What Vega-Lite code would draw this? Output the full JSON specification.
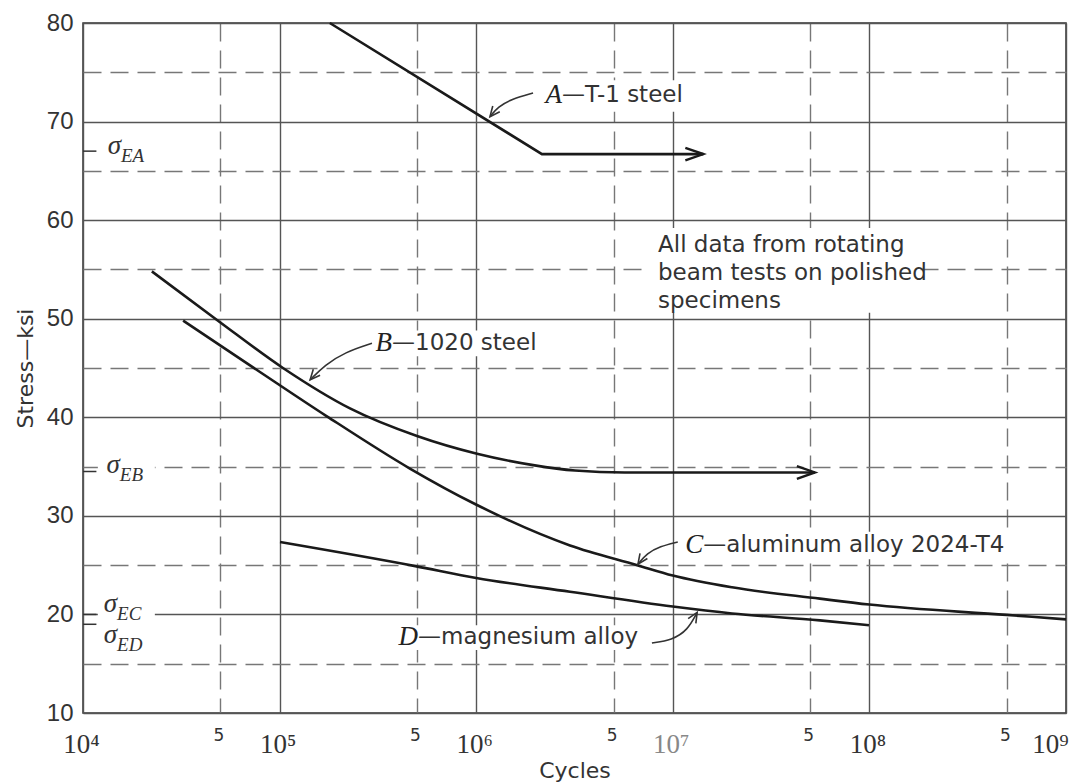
{
  "$schema": "https://vega.github.io/schema/vega-lite/v6.json",
  "width": 983,
  "height": 690,
  "autosize": "none",
  "padding": {"left": 83, "top": 23, "right": 15, "bottom": 69},
  "background": "white",
  "config": {"view": {"stroke": "#333", "strokeWidth": 1.5}},
  "datasets": {
    "curves": [
      {"series": "A", "n": 180000, "s": 80},
      {"series": "A", "n": 2160000, "s": 66.7},
      {"series": "A", "n": 14300000, "s": 66.7},
      {"series": "B", "n": 22400, "s": 54.8},
      {"series": "B", "n": 48600, "s": 49.8},
      {"series": "B", "n": 104000, "s": 45.0},
      {"series": "B", "n": 228000, "s": 40.9},
      {"series": "B", "n": 500000, "s": 38.1},
      {"series": "B", "n": 1010000, "s": 36.3},
      {"series": "B", "n": 1950000, "s": 35.15},
      {"series": "B", "n": 3180000, "s": 34.6},
      {"series": "B", "n": 5700000, "s": 34.4},
      {"series": "B", "n": 52800000, "s": 34.4},
      {"series": "C", "n": 32300, "s": 49.8},
      {"series": "C", "n": 76700, "s": 44.8},
      {"series": "C", "n": 174000, "s": 40.1},
      {"series": "C", "n": 460000, "s": 34.8},
      {"series": "C", "n": 986000, "s": 31.2},
      {"series": "C", "n": 3000000, "s": 27.0},
      {"series": "C", "n": 6600000, "s": 25.0},
      {"series": "C", "n": 10000000, "s": 23.95},
      {"series": "C", "n": 20000000, "s": 22.75},
      {"series": "C", "n": 56000000, "s": 21.6},
      {"series": "C", "n": 100000000, "s": 21.0},
      {"series": "C", "n": 500000000, "s": 19.95},
      {"series": "C", "n": 1000000000, "s": 19.5},
      {"series": "D", "n": 100500, "s": 27.34},
      {"series": "D", "n": 490000, "s": 24.9},
      {"series": "D", "n": 1000000, "s": 23.7},
      {"series": "D", "n": 3000000, "s": 22.3},
      {"series": "D", "n": 10000000, "s": 20.8},
      {"series": "D", "n": 20000000, "s": 20.1},
      {"series": "D", "n": 56000000, "s": 19.4},
      {"series": "D", "n": 99500000, "s": 18.9}
    ],
    "tips": [
      {"series": "A", "n": 14300000, "s": 66.7},
      {"series": "B", "n": 52800000, "s": 34.4}
    ],
    "leaders": [
      {"series": "A", "i": 1, "n": 1946000, "s": 72.9},
      {"series": "A", "i": 2, "n": 1520000, "s": 72.3},
      {"series": "A", "i": 3, "n": 1290000, "s": 71.5},
      {"series": "A", "i": 4, "n": 1175000, "s": 70.5},
      {"series": "B", "i": 1, "n": 295000, "s": 47.5},
      {"series": "B", "i": 2, "n": 215000, "s": 46.6},
      {"series": "B", "i": 3, "n": 170000, "s": 45.3},
      {"series": "B", "i": 4, "n": 143000, "s": 43.8},
      {"series": "C", "i": 1, "n": 10600000, "s": 27.35},
      {"series": "C", "i": 2, "n": 8600000, "s": 26.9},
      {"series": "C", "i": 3, "n": 7400000, "s": 26.2},
      {"series": "C", "i": 4, "n": 6650000, "s": 25.1},
      {"series": "D", "i": 1, "n": 7830000, "s": 17.1},
      {"series": "D", "i": 2, "n": 9900000, "s": 17.4},
      {"series": "D", "i": 3, "n": 11900000, "s": 18.4},
      {"series": "D", "i": 4, "n": 13300000, "s": 20.2}
    ],
    "labels": [
      {"letter": "A", "rest": "—T-1 steel", "n": 2730000, "s": 72.7},
      {"letter": "B", "rest": "—1020 steel", "n": 373000, "s": 47.5},
      {"letter": "C", "rest": "—aluminum alloy 2024-T4", "n": 14300000, "s": 27.0},
      {"letter": "D", "rest": "—magnesium alloy", "n": 506000, "s": 17.7}
    ],
    "note": [
      {"txt": "All data from rotating\nbeam tests on polished\nspecimens", "n": 8410000, "s": 57.48}
    ],
    "sigmas": [
      {"sub": "EA", "n": 15600, "s": 66.71},
      {"sub": "EB", "n": 15400, "s": 34.35},
      {"sub": "EC", "n": 14900, "s": 20.24},
      {"sub": "ED", "n": 14900, "s": 17.1}
    ],
    "marks": [
      {"n": 10000, "n2": 11700, "s": 67},
      {"n": 10000, "n2": 11700, "s": 34.5},
      {"n": 10000, "n2": 11700, "s": 20},
      {"n": 10000, "n2": 11700, "s": 19}
    ],
    "boxes": [
      {"n": 11900, "n2": 23200, "s": 36, "s2": 33},
      {"n": 11900, "n2": 23200, "s": 21.3, "s2": 16.2},
      {"n": 7650000, "n2": 171000000, "s": 59.2, "s2": 50.6},
      {"n": 11400000, "n2": 690000000, "s": 28.4, "s2": 25.6},
      {"n": 295000, "n2": 2060000, "s": 48.8, "s2": 46.2},
      {"n": 400000, "n2": 6800000, "s": 18.9, "s2": 16.4},
      {"n": 2350000, "n2": 15500000, "s": 74.2, "s2": 71}
    ]
  },
  "encoding": {
    "x": {
      "field": "n",
      "type": "quantitative",
      "scale": {"type": "log", "domain": [10000, 1000000000], "nice": false},
      "axis": {
        "title": "Cycles",
        "values": [10000, 50000, 100000, 500000, 1000000, 5000000, 10000000, 50000000, 100000000, 500000000, 1000000000],
        "labelExpr": "abs(log(datum.value)/LN10 - round(log(datum.value)/LN10)) > 0.1 ? '5' : '10' + ['⁴','⁵','⁶','⁷','⁸','⁹'][round(log(datum.value)/LN10) - 4]",
        "grid": true,
        "domain": false,
        "ticks": false,
        "tickSize": 0,
        "gridColor": {"condition": {"test": "abs(log(datum.value)/LN10 - round(log(datum.value)/LN10)) > 0.1", "value": "#777"}, "value": "#555"},
        "gridDash": {"condition": {"test": "abs(log(datum.value)/LN10 - round(log(datum.value)/LN10)) > 0.1", "value": [18, 9]}, "value": []},
        "gridWidth": 1.4,
        "labelFont": {"condition": {"test": "abs(log(datum.value)/LN10 - round(log(datum.value)/LN10)) > 0.1", "value": "DejaVu Sans"}, "value": "Liberation Serif"},
        "labelFontSize": {"condition": {"test": "abs(log(datum.value)/LN10 - round(log(datum.value)/LN10)) > 0.1", "value": 17}, "value": 27},
        "labelPadding": {"condition": {"test": "abs(log(datum.value)/LN10 - round(log(datum.value)/LN10)) > 0.1", "value": 27}, "value": 39},
        "labelOffset": {"condition": {"test": "datum.value == 1000000000", "value": -16}, "value": -2},
        "labelBaseline": "alphabetic",
        "labelColor": {"condition": {"test": "datum.value == 10000000", "value": "#888"}, "value": "#333"},
        "labelFlush": false,
        "labelOverlap": false,
        "labelBound": false,
        "titleFont": "DejaVu Sans",
        "titleFontSize": 22,
        "titleFontWeight": "normal",
        "titleColor": "#333",
        "titleBaseline": "alphabetic",
        "titleY": 64
      }
    },
    "y": {
      "field": "s",
      "type": "quantitative",
      "scale": {"domain": [10, 80], "nice": false, "zero": false},
      "axis": {
        "title": "Stress—ksi",
        "values": [10, 15, 20, 25, 30, 35, 40, 45, 50, 55, 60, 65, 70, 75, 80],
        "labelExpr": "datum.value % 10 == 0 ? datum.label : ''",
        "grid": true,
        "domain": false,
        "ticks": false,
        "tickSize": 0,
        "gridColor": {"condition": {"test": "datum.value % 10 != 0", "value": "#777"}, "value": "#555"},
        "gridDash": {"condition": {"test": "datum.value % 10 != 0", "value": [18, 9]}, "value": []},
        "gridWidth": 1.4,
        "labelFont": "Liberation Sans",
        "labelFontSize": 24,
        "labelPadding": 10,
        "labelColor": "#333",
        "labelOverlap": false,
        "titleFont": "DejaVu Sans",
        "titleFontSize": 22,
        "titleFontWeight": "normal",
        "titleColor": "#333",
        "titleBaseline": "alphabetic",
        "titleX": -51,
        "titleY": 345
      }
    }
  },
  "layer": [
    {
      "data": {"name": "boxes"},
      "mark": {"type": "rect", "color": "white", "opacity": 1},
      "encoding": {"x2": {"field": "n2"}, "y2": {"field": "s2"}}
    },
    {
      "data": {"name": "marks"},
      "mark": {"type": "rule", "color": "#333", "strokeWidth": 1.5},
      "encoding": {"x2": {"field": "n2"}}
    },
    {
      "data": {"name": "curves"},
      "transform": [{"filter": "datum.series == 'A'"}],
      "mark": {"type": "line", "color": "#1a1a1a", "strokeWidth": 2.6, "interpolate": "linear"},
      "encoding": {}
    },
    {
      "data": {"name": "curves"},
      "transform": [{"filter": "datum.series != 'A'"}],
      "mark": {"type": "line", "color": "#1a1a1a", "strokeWidth": 2.6, "interpolate": "monotone"},
      "encoding": {"detail": {"field": "series"}}
    },
    {
      "data": {"name": "tips"},
      "mark": {"type": "point", "shape": "M-1,-0.35L0,0L-1,0.35", "filled": false, "stroke": "#1a1a1a", "strokeWidth": 2.4, "size": 1296, "opacity": 1},
      "encoding": {}
    },
    {
      "data": {"name": "leaders"},
      "mark": {"type": "line", "color": "#333", "strokeWidth": 1.6, "interpolate": "basis"},
      "encoding": {"detail": {"field": "series"}, "order": {"field": "i"}}
    },
    {
      "data": {"name": "leaders"},
      "transform": [{"filter": "datum.series == 'A' && datum.i == 4"}],
      "mark": {"type": "point", "shape": "M-1,-0.45L0,0L-1,0.45", "filled": false, "stroke": "#333", "strokeWidth": 1.6, "size": 400, "opacity": 1, "angle": 129},
      "encoding": {}
    },
    {
      "data": {"name": "leaders"},
      "transform": [{"filter": "datum.series == 'B' && datum.i == 4"}],
      "mark": {"type": "point", "shape": "M-1,-0.45L0,0L-1,0.45", "filled": false, "stroke": "#333", "strokeWidth": 1.6, "size": 400, "opacity": 1, "angle": 131},
      "encoding": {}
    },
    {
      "data": {"name": "leaders"},
      "transform": [{"filter": "datum.series == 'C' && datum.i == 4"}],
      "mark": {"type": "point", "shape": "M-1,-0.45L0,0L-1,0.45", "filled": false, "stroke": "#333", "strokeWidth": 1.6, "size": 400, "opacity": 1, "angle": 125},
      "encoding": {}
    },
    {
      "data": {"name": "leaders"},
      "transform": [{"filter": "datum.series == 'D' && datum.i == 4"}],
      "mark": {"type": "point", "shape": "M-1,-0.45L0,0L-1,0.45", "filled": false, "stroke": "#333", "strokeWidth": 1.6, "size": 400, "opacity": 1, "angle": 301},
      "encoding": {}
    },
    {
      "data": {"name": "labels"},
      "mark": {"type": "text", "font": "Liberation Serif", "fontStyle": "italic", "fontSize": 27, "align": "right", "baseline": "middle", "color": "#222"},
      "encoding": {"text": {"field": "letter"}}
    },
    {
      "data": {"name": "labels"},
      "mark": {"type": "text", "font": "DejaVu Sans", "fontSize": 23, "align": "left", "baseline": "middle", "color": "#333"},
      "encoding": {"text": {"field": "rest"}}
    },
    {
      "data": {"name": "note"},
      "mark": {"type": "text", "font": "DejaVu Sans", "fontSize": 23, "align": "left", "baseline": "middle", "lineBreak": "\n", "lineHeight": 28, "color": "#333"},
      "encoding": {"text": {"field": "txt"}}
    },
    {
      "data": {"name": "sigmas"},
      "mark": {"type": "text", "font": "Liberation Serif", "fontStyle": "italic", "fontSize": 27, "align": "right", "baseline": "alphabetic", "color": "#333", "text": "σ"},
      "encoding": {}
    },
    {
      "data": {"name": "sigmas"},
      "mark": {"type": "text", "font": "Liberation Serif", "fontStyle": "italic", "fontSize": 19, "align": "left", "baseline": "alphabetic", "dy": 8, "color": "#333"},
      "encoding": {"text": {"field": "sub"}}
    }
  ]
}
